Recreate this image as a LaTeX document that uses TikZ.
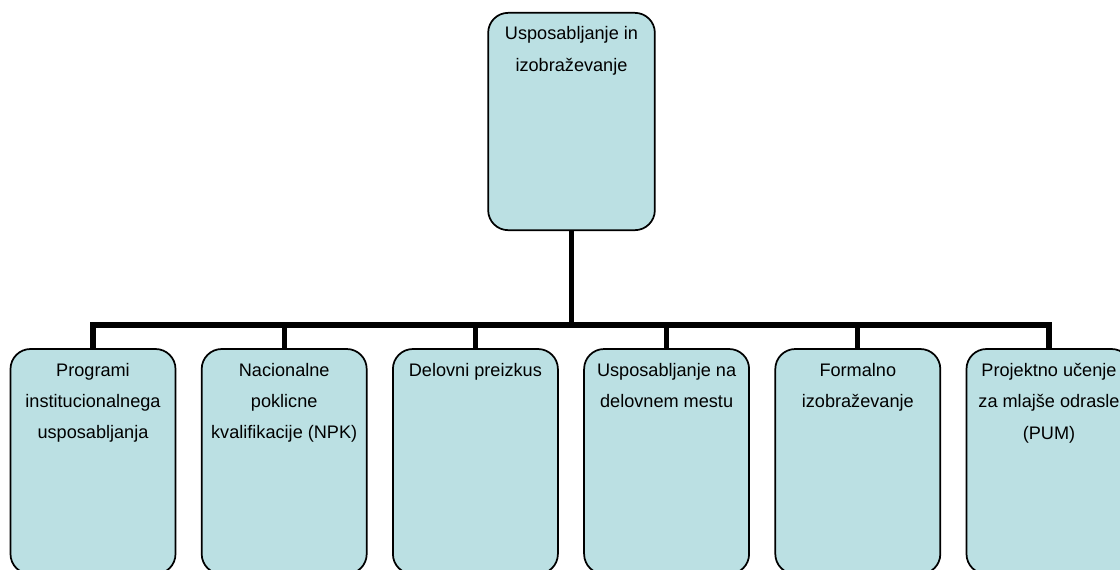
\documentclass[tikz,border=0pt]{standalone}
\usepackage{fontspec}
\setmainfont{Liberation Sans}
\definecolor{boxfill}{HTML}{BBE0E3}
\begin{document}
\begin{tikzpicture}[x=0.75pt,y=-0.75pt,
  box/.style={draw=black,line width=1.3pt,fill=boxfill,rounded corners=15pt,
    minimum width=123.75pt,minimum height=168.75pt,inner sep=0pt,outer sep=0pt},
  txt/.style={anchor=north,inner sep=0pt,align=center,
    font=\fontsize{13.6}{23.6}\selectfont},
  conn/.style={draw=black,line width=3.8pt,line join=miter}]
\useasboundingbox (0,0) rectangle (1120,569);
\clip (0,0) rectangle (1120,569);
\node[box,minimum width=125pt,minimum height=163pt] (top) at (571.5,121.5) {};
\node[txt] (ttop) at ([yshift=-10.2pt]top.north) {Usposabljanje in\\izobraževanje};
\foreach \i/\x in {1/93,2/284.2,3/475.4,4/666.6,5/857.8,6/1049}{
  \node[box] (b\i) at (\x,461.5) {};
}
\node[txt] (t1) at ([yshift=-10.2pt]b1.north) {Programi\\institucionalnega\\usposabljanja};
\node[txt] (t2) at ([yshift=-10.2pt]b2.north) {Nacionalne\\poklicne\\kvalifikacije (NPK)};
\node[txt] (t3) at ([yshift=-10.2pt]b3.north) {Delovni preizkus};
\node[txt] (t4) at ([yshift=-10.2pt]b4.north) {Usposabljanje na\\delovnem mestu};
\node[txt] (t5) at ([yshift=-10.2pt]b5.north) {Formalno\\izobraževanje};
\node[txt] (t6) at ([yshift=-10.2pt]b6.north) {Projektno učenje\\za mlajše odrasle\\(PUM)};
\coordinate (bus) at (571.5,325);
\foreach \i in {1,...,6}{
  \draw[conn] (top.south) -- (bus) -| (b\i.north);
}
\end{tikzpicture}
\end{document}
